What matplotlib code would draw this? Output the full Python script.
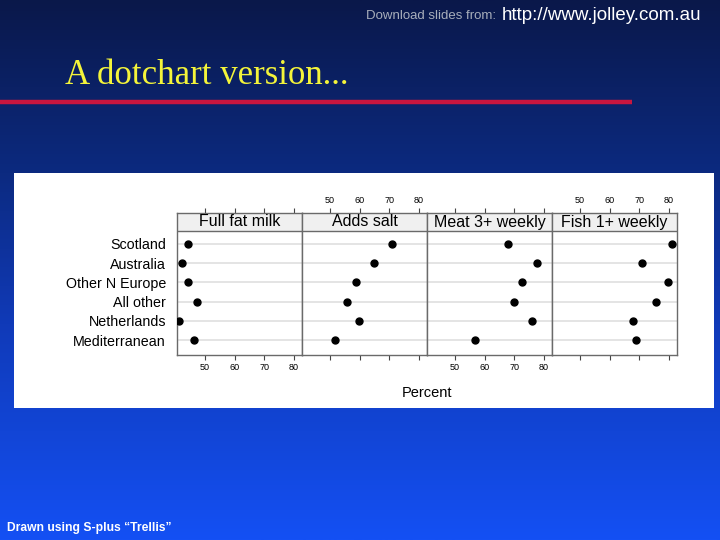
import numpy as np
import matplotlib
matplotlib.use("Agg")
import matplotlib.pyplot as plt
from matplotlib.colors import LinearSegmentedColormap
from matplotlib.patches import Rectangle

# ---- data ----
categories = ["Scotland", "Australia", "Other N Europe", "All other", "Netherlands", "Mediterranean"]
panels = ["Full fat milk", "Adds salt", "Meat 3+ weekly", "Fish 1+ weekly"]
full_fat_milk = [44.3, 42.4, 44.3, 47.5, 41.4, 46.4]
adds_salt = [70.8, 64.8, 58.8, 55.8, 59.8, 51.7]
meat_weekly = [67.8, 77.7, 72.7, 69.8, 75.8, 56.6]
fish_weekly = [80.9, 70.8, 79.6, 75.7, 67.8, 68.8]
panel_values = [full_fat_milk, adds_salt, meat_weekly, fish_weekly]
xticks = [50, 60, 70, 80]
x_label = "Percent"

W, H = 720, 540
fig = plt.figure(figsize=(7.2, 5.4), dpi=100)

def px(x0, y0, x1, y1):
    return [x0 / W, 1 - y1 / H, (x1 - x0) / W, (y1 - y0) / H]

# background gradient
bg = fig.add_axes([0, 0, 1, 1])
bg.set_axis_off()
cmap = LinearSegmentedColormap.from_list(
    "slide", [(0.0, "#0a184a"), (0.32, "#0c2a80"), (0.6, "#103ab8"), (1.0, "#1450f4")])
grad = np.linspace(0, 1, 256).reshape(-1, 1)
bg.imshow(grad, aspect="auto", cmap=cmap, extent=[0, 1, 0, 1], origin="upper")
bg.set_xlim(0, 1); bg.set_ylim(0, 1)

# header texts
fig.text(496 / W, 1 - 16 / H, "Download slides from:", color="#a8aebb", fontsize=9.5,
         family="Liberation Sans", ha="right", va="center")
fig.text(502 / W, 1 - 15 / H, "http://www.jolley.com.au", color="white", fontsize=13.5,
         family="Liberation Sans", ha="left", va="center")
fig.text(65 / W, 1 - 76 / H, "A dotchart version...", color="#f4f43a", fontsize=25,
         family="Liberation Serif", ha="left", va="center")
bg.plot([0, 632 / W], [1 - 101.5 / H, 1 - 101.5 / H], color="#c8163f", lw=3.2, solid_capstyle="butt")
fig.text(7 / W, 1 - 528 / H, "Drawn using S-plus \u201cTrellis\u201d", color="white", fontsize=8.7,
         family="Liberation Sans", weight="bold", ha="left", va="center")

# white panel
fig.patches.append(Rectangle((14 / W, 1 - 408 / H), (714 - 14) / W, (408 - 172.5) / H,
                             transform=fig.transFigure, facecolor="white", edgecolor="none", zorder=0.5))

# trellis panels
left, right = 177, 677
strip_top, strip_bot, data_bot = 213, 231, 355
pw = (right - left) / len(panels)
ylo, yhi = 0.22, 6.67
full_top = yhi + (yhi - ylo) * (strip_bot - strip_top) / (data_bot - strip_bot)
strip_frac = (data_bot - strip_bot) / (data_bot - strip_top)
ypos = np.arange(len(categories), 0, -1)
frame_col = "#6a6a6a"

for i, (name, vals) in enumerate(zip(panels, panel_values)):
    ax = fig.add_axes(px(left + i * pw, strip_top, left + (i + 1) * pw, data_bot))
    ax.set_zorder(2)
    ax.set_xlim(40.6, 82.7)
    ax.set_ylim(ylo, full_top)
    for y in ypos:
        ax.axhline(y, color="#e2e2e2", lw=1.3, zorder=1)
    ax.plot(vals, ypos, "o", color="black", markersize=5, zorder=3)
    ax.add_patch(Rectangle((0, strip_frac), 1, 1 - strip_frac, transform=ax.transAxes,
                           facecolor="#f0f0f0", edgecolor="none", zorder=2))
    ax.axhline(yhi, color=frame_col, lw=1.0, zorder=4)
    ax.text(0.5, (strip_frac + 1) / 2, name, transform=ax.transAxes, ha="center", va="center",
            fontsize=11.5, family="Liberation Sans", zorder=5)
    for s in ax.spines.values():
        s.set_color(frame_col)
        s.set_linewidth(1.0)
    ax.set_xticks(xticks)
    ax.set_yticks([])
    top_labels = (i % 2 == 1)
    ax.tick_params(axis="x", which="both", direction="out", length=3.5, width=0.8, color="#444444",
                   top=True, bottom=True, labeltop=top_labels, labelbottom=not top_labels,
                   labelsize=6.5, pad=2)
    for lab in ax.get_xticklabels():
        lab.set_family("Liberation Sans")
    if i == 0:
        ax.set_yticks(ypos)
        ax.set_yticklabels(categories, fontsize=10.3, family="Liberation Sans")
        ax.tick_params(axis="y", length=0, pad=8)

fig.text((left + right) / 2 / W, 1 - 393 / H, x_label, fontsize=10.5, family="Liberation Sans",
         ha="center", va="center", zorder=5)

fig.savefig("out.png", dpi=100)
